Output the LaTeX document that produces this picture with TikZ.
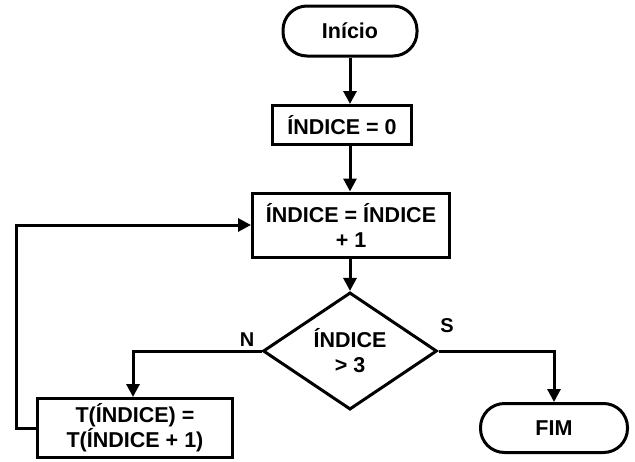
\documentclass[tikz,border=0pt]{standalone}
\usepackage{fontspec}
\setmainfont{Liberation Sans}
\usetikzlibrary{arrows.meta,shapes.geometric}
\begin{document}
\begin{tikzpicture}[x=1pt,y=-1pt,
  every node/.style={font=\fontsize{21.5}{25}\selectfont\bfseries, inner sep=0pt, align=center},
  proc/.style={draw, line width=3pt, rectangle},
  term/.style={draw, line width=3pt, rectangle, rounded corners=24pt},
  dec/.style={draw, line width=3pt, diamond, minimum width=174pt, minimum height=115pt},
  conn/.style={line width=3pt, -{Triangle[length=13pt,width=13pt]}},
  lbl/.style={font=\fontsize{20}{22}\selectfont\bfseries}
]
\useasboundingbox (0,0) rectangle (635,461);
\node[term, minimum width=134pt, minimum height=50pt] (ini) at (350,31) {Início};
\node[proc, minimum width=139pt, minimum height=39pt] (b0) at (342,125) {ÍNDICE = 0};
\node[proc, minimum width=197pt, minimum height=64pt] (b1) at (351,225) {ÍNDICE = ÍNDICE\\+ 1};
\node[dec] (dia) at (350,351) {ÍNDICE\\> 3};
\node[proc, minimum width=195pt, minimum height=59pt] (bt) at (135,428) {T(ÍNDICE) =\\T(ÍNDICE + 1)};
\node[term, minimum width=147pt, minimum height=49pt] (fim) at (554,428) {FIM};
\coordinate (c1) at (16,428);
\coordinate (c2) at (16,225);
\coordinate (cn) at (133,351);
\draw[conn] (ini.south) -- (ini.south |- b0.north);
\draw[conn] (b0.south -| ini.south) -- (ini.south |- b1.north);
\draw[conn] (b1.south -| dia.north) -- (dia.north);
\draw[conn] (dia.west) -- (cn) -- (cn |- bt.north);
\draw[conn] (dia.east) -| (fim.north);
\draw[conn] (bt.west) -- (c1) -- (c2) -- (b1.west);
\node[lbl] (n) at (247,340) {N};
\node[lbl] (s) at (447,326) {S};
\end{tikzpicture}
\end{document}
